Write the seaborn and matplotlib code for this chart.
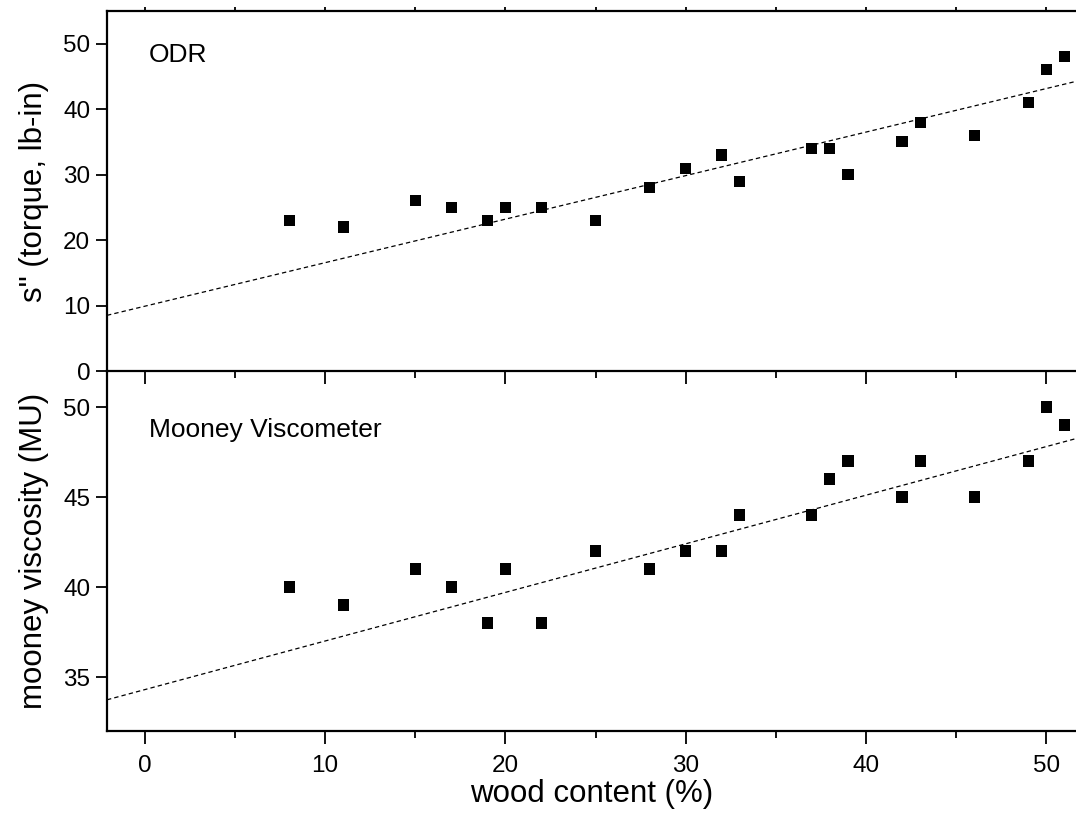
import numpy as np
import pandas as pd
import matplotlib
matplotlib.use("Agg")
import matplotlib.pyplot as plt
import seaborn as sns
from matplotlib.ticker import MultipleLocator

# ---- data ----
wood_content = [8, 11, 15, 17, 19, 20, 22, 25, 28, 30, 32, 33, 37, 38, 39, 42, 43, 46, 49, 50, 51]
odr_torque = [23, 22, 26, 25, 23, 25, 25, 23, 28, 31, 33, 29, 34, 34, 30, 35, 38, 36, 41, 46, 48]
mooney_visc = [40, 39, 41, 40, 38, 41, 38, 42, 41, 42, 42, 44, 44, 46, 47, 45, 47, 45, 47, 50, 49]

# fitted trend lines (intercept, slope)
odr_fit = [9.9, 0.665]
mooney_fit = [34.3, 0.270]

x_ticks = [0, 10, 20, 30, 40, 50]
odr_ticks = [0, 10, 20, 30, 40, 50]
mooney_ticks = [35, 40, 45, 50]

sns.set_theme(style="ticks")
plt.rcParams['font.family'] = ['Liberation Sans', 'DejaVu Sans']
plt.rcParams.update({
    "text.color": "black", "axes.labelcolor": "black", "axes.edgecolor": "black",
    "xtick.color": "black", "ytick.color": "black",
})

df = pd.DataFrame({"wood": wood_content, "odr": odr_torque, "mooney": mooney_visc})

W, H = 1076, 814
fig = plt.figure(figsize=(W / 100, H / 100), dpi=100)
left = 107 / W
right = 1.0
ax2 = fig.add_axes([left, 1 - 731 / H, right - left, 360 / H])
ax1 = fig.add_axes([left, 1 - 371 / H, right - left, 360 / H])
ax1.patch.set_visible(False)
ax2.patch.set_visible(False)

xlim = (-2.1, 51.65)
fit_x = np.array(xlim)

for ax, col, fit, ylim, yt, label, ylab in [
    (ax1, "odr", odr_fit, (0, 55), odr_ticks, "ODR", "s\" (torque, lb-in)"),
    (ax2, "mooney", mooney_fit, (32, 52), mooney_ticks, "Mooney Viscometer", "mooney viscosity (MU)"),
]:
    fit_df = pd.DataFrame({"x": fit_x, "y": fit[0] + fit[1] * fit_x})
    sns.lineplot(data=fit_df, x="x", y="y", ax=ax, color="black", lw=0.9,
                 linestyle=(0, (3.5, 2.5)), zorder=2)
    sns.scatterplot(data=df, x="wood", y=col, ax=ax, marker="s", s=64,
                    color="black", edgecolor="none", zorder=3)
    ax.set_xlim(*xlim)
    ax.set_ylim(*ylim)
    ax.set_yticks(yt)
    ax.set_xticks(x_ticks)
    ax.xaxis.set_minor_locator(MultipleLocator(5))
    ax.tick_params(axis="y", direction="out", length=8, width=1.3, labelsize=17.5, pad=4)
    ax.tick_params(axis="x", which="major", direction="out", length=9, width=1.3, labelsize=17.5, pad=8)
    ax.tick_params(axis="x", which="minor", direction="out", length=5, width=1.3)
    ax.set_ylabel(ylab, fontsize=22.5, labelpad=10)
    ax.text(0.043, 0.858 if ax is ax1 else 0.817, label, transform=ax.transAxes,
            fontsize=19, va="baseline", ha="left")
    for s in ["left", "bottom", "top"]:
        ax.spines[s].set_linewidth(1.6)
    ax.spines["right"].set_visible(False)

ax1.spines["top"].set_visible(True)
ax1.tick_params(axis="x", which="both", labelbottom=False, top=True)
ax1.set_xlabel("")
ax2.spines["top"].set_visible(False)
ax2.set_xlabel("wood content (%)", fontsize=22.5, labelpad=2)

# small inward ticks on the top spine of the upper panel
for t in ax1.xaxis.get_major_ticks() + ax1.xaxis.get_minor_ticks():
    t.tick2line.set_markersize(3)

fig.savefig("out.png", dpi=100)
